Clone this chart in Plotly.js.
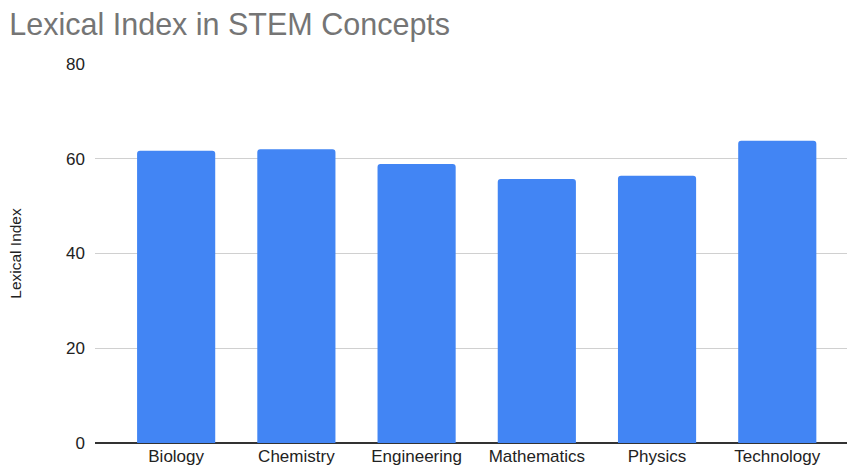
<!DOCTYPE html>
<html>
<head>
<meta charset="utf-8">
<script src="https://cdn.plot.ly/plotly-3.0.1.min.js"></script>
<style>html,body{margin:0;padding:0;background:#fff;}#chart{width:847px;height:467px;}</style>
</head>
<body>
<div id="chart"></div>
<script>
const categories = ["Biology", "Chemistry", "Engineering", "Mathematics", "Physics", "Technology"];
const lexicalIndex = [61.7, 62.0, 58.9, 55.7, 56.4, 63.8];
const yTicks = [0, 20, 40, 60, 80];

const trace = {
  type: "bar",
  x: categories,
  y: lexicalIndex,
  marker: { color: "#4285F4", cornerradius: 3 },
  hoverinfo: "x+y"
};

const layout = {
  width: 847,
  height: 467,
  margin: { l: 95, r: 0, t: 63.5, b: 24, pad: 0 },
  paper_bgcolor: "#ffffff",
  plot_bgcolor: "#ffffff",
  bargap: 0.35,
  showlegend: false,
  font: { family: "Liberation Sans, Arial, sans-serif", color: "#222222" },
  title: {
    text: "Lexical Index in STEM Concepts",
    x: 0.011, xanchor: "left", xref: "container",
    y: 0.948, yanchor: "middle", yref: "container",
    font: { size: 30.5, color: "#757575", family: "Liberation Sans, Arial, sans-serif" }
  },
  xaxis: {
    type: "category",
    range: [-0.675, 5.58],
    showgrid: false,
    showline: false,
    ticks: "",
    ticklabelstandoff: 1,
    tickfont: { size: 17, color: "#222222" },
    fixedrange: true
  },
  yaxis: {
    range: [0, 80],
    tickvals: yTicks,
    ticktext: yTicks.map(String),
    showgrid: true,
    gridcolor: "#d0d0d0",
    gridwidth: 1,
    zeroline: true,
    zerolinecolor: "#333333",
    zerolinewidth: 1.5,
    showline: false,
    ticks: "",
    ticklabelstandoff: 9,
    tickfont: { size: 17, color: "#222222" },
    title: { text: "Lexical Index", font: { size: 15.5, color: "#222222" }, standoff: 40 },
    fixedrange: true
  }
};

Plotly.newPlot("chart", [trace], layout, { displayModeBar: false, staticPlot: true });
</script>
</body>
</html>
